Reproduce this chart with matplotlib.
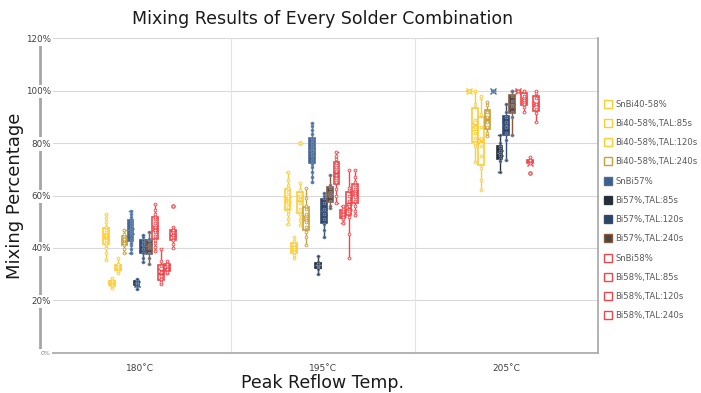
import numpy as np
import matplotlib.pyplot as plt
from matplotlib.lines import Line2D

# categories and series
temps = ['180˚C', '195˚C', '205˚C']
series_names = ['SnBi40-58%', 'Bi40-58%,TAL:85s', 'Bi40-58%,TAL:120s', 'Bi40-58%,TAL:240s',
                'SnBi57%', 'Bi57%,TAL:85s', 'Bi57%,TAL:120s', 'Bi57%,TAL:240s',
                'SnBi58%', 'Bi58%,TAL:85s', 'Bi58%,TAL:120s', 'Bi58%,TAL:240s']
edge_colors = ['#FFCC33', '#FFCC33', '#FFCC33', '#C9A13B',
               '#4A6B95', '#2B3340', '#344A70', '#8A5A3A',
               '#F0454A', '#F0454A', '#F0454A', '#F0454A']
face_colors = ['white', 'white', 'white', 'white',
               '#3F5F8A', '#262C36', '#2F4468', '#4E4440',
               'white', 'white', 'white', 'white']

# mixing percentage readings (%), one list per series per temperature
mix_180 = [
    [35.5, 38, 40, 41, 42, 43, 44, 44.5, 45, 46, 47, 48, 50, 51.5, 53],
    [24.9, 25.6, 26, 26.5, 27, 27.5, 28.7],
    [30.6, 31.4, 32, 32.5, 33, 34, 36],
    [38, 39.5, 41, 42, 43, 43.5, 44.5, 45.5, 46.7],
    [38, 39.5, 41, 42, 43.5, 45, 46, 47, 48, 49, 50, 51, 52, 53, 54],
    [24.5, 25.5, 26, 26.5, 27, 27.5, 28],
    [34.5, 36, 38, 39.5, 41, 42, 43, 44, 45],
    [34, 36.3, 38, 40, 41.5, 43, 43.6, 46],
    [39, 40.5, 42, 43, 44.5, 46, 47, 48, 49.5, 51, 52, 53, 54.5, 56.6],
    [26.4, 27, 28, 29.5, 31, 33, 35, 39.8],
    [30.6, 31, 32, 33, 34, 35],
    [40, 41.7, 43, 44, 45, 46, 47, 48, 56],
]
mix_195 = [
    [49.3, 51, 53, 54, 55.5, 57, 58, 59, 60, 61.5, 62.7, 64, 66, 68.8],
    [36.3, 37.5, 38.5, 39.5, 40.5, 41.5, 42.5, 44],
    [48.6, 50.5, 53, 55, 57, 58.5, 60, 62, 64.6, 80],
    [41, 44, 46, 48, 50, 51.5, 53, 55, 56, 59, 63],
    [65, 67, 69, 71, 72, 73.5, 75, 76, 77, 78, 79, 80, 81, 82, 83.5, 85, 86.5, 87.6],
    [30, 32, 33, 33.5, 34, 34.8, 37],
    [44, 47, 49, 51, 53, 55, 57, 59, 60, 61],
    [55.4, 56, 58, 60, 61.5, 63, 64, 67.7],
    [57, 60, 62.5, 65, 66.5, 68, 69.5, 71, 72.5, 74, 75, 76.5],
    [49.7, 51, 52, 53, 54, 55, 56],
    [36.3, 45.5, 52, 54, 56, 58, 60, 62, 63, 69.6],
    [52.4, 54, 56, 58, 59.5, 61, 62.5, 64, 65, 67, 69.6],
]
mix_205 = [
    [100, 100, 100, 100],
    [72.6, 79, 80, 82, 84, 86, 88.7, 95, 100, 100],
    [62, 66, 70.4, 75, 79, 82, 86, 91, 97, 98],
    [82.5, 83.7, 86, 88, 90, 92, 94.4, 95.6],
    [100, 100, 100],
    [69, 73, 74, 75.5, 77, 78.5, 80, 83],
    [73.4, 81, 83.7, 86, 88, 90, 91.8, 95],
    [83, 90, 91.8, 94, 96, 98, 100, 100],
    [100, 100, 100],
    [92, 93.7, 95, 96.5, 98, 100, 100],
    [68.5, 72.3, 73, 73.5, 74.6],
    [88, 91.4, 93, 95, 97, 99, 100],
]
mix_data = [mix_180, mix_195, mix_205]

plt.rcParams['font.family'] = 'DejaVu Sans'
fig = plt.figure(figsize=(7.01, 3.93), dpi=100)
ax = fig.add_axes([0.0685, 0.102, 0.7845, 0.801])

# spine setup first (set_position resets the ticks)
ax.spines['left'].set_position(('outward', 6))
ax.spines['left'].set_color('#A6A6A6')
ax.spines['left'].set_linewidth(2)
ax.spines['bottom'].set_color('#A6A6A6')
ax.spines['bottom'].set_linewidth(1.2)
ax.spines['right'].set_color('#A6A6A6')
ax.spines['right'].set_linewidth(1.2)
ax.spines['top'].set_visible(False)

centers = [0.5, 1.49, 2.48]
slot = 0.0333
bw = 0.031
for c, group in enumerate(mix_data):
    for j, vals in enumerate(group):
        pos = centers[c] + (j - 5.5) * slot
        ec, fc = edge_colors[j], face_colors[j]
        ax.boxplot([vals], positions=[pos], widths=bw, whis=2.0, patch_artist=True,
                   showmeans=True, manage_ticks=False,
                   boxprops=dict(facecolor=fc, edgecolor=ec, linewidth=1.2),
                   medianprops=dict(color=ec if fc == 'white' else '#7F8FA6', linewidth=0.9),
                   whiskerprops=dict(color=ec, linewidth=1.0),
                   capprops=dict(color=ec, linewidth=1.0), capwidths=0.012,
                   meanprops=dict(marker='x', markeredgecolor=ec, markersize=4, markeredgewidth=1.0),
                   flierprops=dict(marker='o', markerfacecolor='white', markeredgecolor=ec,
                                   markersize=2.5, markeredgewidth=0.7))
        ax.scatter(np.full(len(vals), pos), vals, s=4,
                   facecolor='white' if fc == 'white' else ec,
                   edgecolor=ec if fc == 'white' else '#6E8CB5', linewidth=0.6, zorder=4)

ax.set_xlim(0, 3)
ax.set_ylim(0, 120)
ax.set_xticks([0.5, 1.5, 2.5])
ax.set_xticklabels(temps, fontsize=6.5, color='#404040')
ax.tick_params(axis='x', length=0, pad=8)
ax.set_yticks(range(0, 121, 20))
ax.set_yticklabels([f'{v}%' for v in range(0, 121, 20)], fontsize=6.3, color='#404040')
ax.tick_params(axis='y', length=0, pad=-8)
for lab in ax.get_yticklabels():
    lab.set_bbox(dict(facecolor='white', edgecolor='none', pad=1.5))
ax.get_yticklabels()[0].set_fontsize(4.5)
ax.get_yticklabels()[0].set_color('#808080')
ax.yaxis.set_zorder(5)

for v in range(20, 121, 20):
    ax.axhline(v, color='#D9D9D9', linewidth=0.8, zorder=0)
for xb in [1, 2]:
    ax.axvline(xb, color='#E3E3E3', linewidth=0.8, zorder=0)

ax.set_title('Mixing Results of Every Solder Combination', fontsize=12.5, color='#1a1a1a', pad=10)
ax.set_ylabel('Mixing Percentage', fontsize=13, color='#1a1a1a')
ax.yaxis.set_label_coords(-0.044, 0.5)
ax.set_xlabel('Peak Reflow Temp.', fontsize=12.5, color='#1a1a1a', labelpad=1)

handles = [Line2D([], [], linestyle='none', marker='s', markersize=6,
                  markerfacecolor=face_colors[j], markeredgecolor=edge_colors[j], markeredgewidth=1)
           for j in range(12)]
fig.legend(handles, series_names, loc='upper left', bbox_to_anchor=(0.858, 0.755),
           frameon=False, fontsize=6.1, labelcolor='#595959', handlelength=0.7,
           handletextpad=0.5, labelspacing=1.21, borderaxespad=0)

fig.savefig('out.png', dpi=100)
